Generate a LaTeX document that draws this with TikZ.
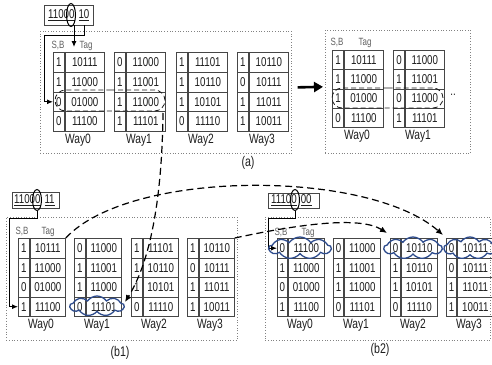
\documentclass[tikz,border=0pt]{standalone}
\usepackage{fontspec}
\setmainfont{Liberation Sans}[FakeStretch=0.76]
\usetikzlibrary{arrows.meta,shapes.symbols,shapes.misc,shapes.geometric}

\definecolor{gridline}{RGB}{70,70,70}
\definecolor{inkgray}{RGB}{30,30,30}
\definecolor{framegray}{RGB}{130,130,130}
\definecolor{cloudblue}{RGB}{45,75,140}

\newcommand\cellfont{\fontsize{12.8}{14}\selectfont}
\newcommand\wayfont{\fontsize{13.5}{15}\selectfont}
\newcommand\headfont{\fontsize{10.5}{12}\selectfont}

\tikzset{
  x=1pt, y=-1pt,
  cellbox/.style={draw=gridline, line width=0.9pt, inner sep=0pt, anchor=north west,
    font=\cellfont, text=inkgray},
  waylbl/.style={font=\wayfont, text=inkgray, inner sep=0pt},
  headlbl/.style={font=\headfont, text=gray!75!black, inner sep=0pt},
  panelbox/.style={draw=framegray, dotted, line width=0.7pt, anchor=north west, inner sep=0pt},
  addrbox/.style={draw=gridline, line width=0.9pt, inner sep=0pt},
  addrtext/.style={font=\cellfont, text=inkgray, inner sep=0pt, anchor=west},
  addrmark/.style={draw=black, line width=1pt, ellipse, inner sep=0pt},
  route/.style={draw=black, line width=1pt, -{Latex[length=6pt,width=5pt]}},
  jump/.style={draw=black, line width=1.2pt, dash pattern=on 7pt off 4pt,
    -{Latex[length=7pt,width=6pt]}},
  selband/.style={draw=inkgray, line width=0.8pt, dash pattern=on 5pt off 3pt,
    rounded rectangle, inner sep=0pt},
  hit/.style={draw=cloudblue, line width=1.3pt, cloud, cloud puffs=9, cloud puff arc=110,
    aspect=3, inner sep=0pt},
  panellbl/.style={font=\fontsize{14}{16}\selectfont, text=inkgray, inner sep=0pt},
}

% #1 name, #2 left, #3 top, #4 width, #5 S,B width, #6 row height, #7 caption, #8 rows
\newcommand\waytab[8]{%
  \foreach [count=\i] \sbv/\tagv in {#8} {
    \node[cellbox, minimum width=#5pt, minimum height=#6pt]
      (#1-s\i) at (#2,{#3+(\i-1)*#6}) {\sbv};
    \node[cellbox, minimum width={#4pt-#5pt}, minimum height=#6pt]
      (#1-t\i) at (#1-s\i.north east) {\tagv};
  }
  \node[waylbl] (#1-cap) at ({#2+#4/2},{#3+4*#6+9}) {#7};
}

\begin{document}
\begin{tikzpicture}
\path[use as bounding box, fill=white] (0,0) rectangle (492,364);

% ---------------- panel (a): before ----------------
\node[panelbox, minimum width=251pt, minimum height=122pt] (pA) at (40,31) {};
\node[addrbox, minimum width=49pt, minimum height=20pt] (addrA) at (68.5,15) {};
\node[addrtext] (addrAt) at (48,15) {\underline{11000}\hspace{4pt}\underline{10}};
\node[addrmark, minimum width=9pt, minimum height=23pt] (ellA) at (71,15) {};

\node[headlbl] (hA-sb) at (58,46) {S,B};
\node[headlbl] (hA-tag) at (86,46) {Tag};

\waytab{A0}{53}{52}{50}{11}{19.75}{Way0}{1/10111,1/11000,0/01000,0/11100}
\waytab{A1}{114}{52}{50}{11}{19.75}{Way1}{0/11000,1/11001,1/11000,1/11101}
\waytab{A2}{176}{52}{50}{11}{19.75}{Way2}{1/11101,1/10110,1/10101,0/11110}
\waytab{A3}{237}{52}{50}{11}{19.75}{Way3}{1/10110,0/10111,1/11011,1/10011}

\coordinate (aTagSrc) at (74,25);
\coordinate (aTagDst) at (74,47);
\coordinate (aIdx) at (84,25);
\draw[route] (aTagSrc) -- (aTagDst);
\draw[route] (aIdx) -- ++(0,10) -| ([xshift=-9pt]A0-s3.west) -- (A0-s3.west);

\node[selband, minimum width=110pt, minimum height=21pt] (selA) at (110,100.5) {};

% ---------------- panel (a): after ----------------
\node[panelbox, minimum width=145pt, minimum height=123pt] (pA2) at (325,30) {};
\node[headlbl] (hA2-sb) at (337,43) {S,B};
\node[headlbl] (hA2-tag) at (365,43) {Tag};
\waytab{R0}{332}{50}{50}{11}{19.25}{Way0}{1/10111,1/11000,1/01000,0/11100}
\waytab{R1}{393}{50}{50}{11}{19.25}{Way1}{0/11000,1/11001,0/11000,1/11101}
\node[font=\cellfont, text=inkgray] (moreA) at (453,95) {..};
\node[selband, minimum width=111pt, minimum height=20pt] (selA2) at (387.5,98) {};

\draw[line width=2.6pt, -{Triangle[length=9pt,width=10pt]}]
  ([xshift=6pt,yshift=5pt]pA.east) -- ([xshift=-2pt,yshift=5pt]pA2.west);
\node[panellbl] (labA) at (248,163) {(a)};

% ---------------- panel (b1) ----------------
\node[panelbox, minimum width=231pt, minimum height=123pt] (pB1) at (6,217) {};
\node[addrbox, minimum width=47pt, minimum height=16pt] (addrB1) at (35.5,200) {};
\node[addrtext] (addrB1t) at (14,200) {\underline{11000}\hspace{4pt}\underline{11}};
\node[addrmark, minimum width=9pt, minimum height=21pt] (ellB1) at (37,200) {};
\node[headlbl] (hB1-sb) at (22,232) {S,B};
\node[headlbl] (hB1-tag) at (48,232) {Tag};

\waytab{B10}{18}{238}{46}{11}{19.5}{Way0}{1/10111,1/11000,0/01000,1/11100}
\waytab{B11}{74}{238}{46}{11}{19.5}{Way1}{0/11000,1/11001,1/11000,0/11101}
\waytab{B12}{131}{238}{46}{11}{19.5}{Way2}{1/11101,1/10110,1/10101,0/11110}
\waytab{B13}{187}{238}{46}{11}{19.5}{Way3}{1/10110,0/10111,1/11011,1/10011}

\draw[route] (ellB1.south) -- ++(0,7) -| ([xshift=-9pt]B10-s4.west) -- (B10-s4.west);
\node[hit, minimum width=54pt, minimum height=20pt] (cB1) at (97,306) {};
\node[panellbl] (labB1) at (120,353) {(b1)};

% ---------------- panel (b2) ----------------
\node[panelbox, minimum width=225pt, minimum height=123pt] (pB2) at (265,217) {};
\node[addrbox, minimum width=51pt, minimum height=15pt] (addrB2) at (293.5,200.5) {};
\node[addrtext] (addrB2t) at (271,200.5) {\underline{11100}\hspace{4pt}\underline{00}};
\node[addrmark, minimum width=9pt, minimum height=21pt] (ellB2) at (295,200) {};
\node[headlbl] (hB2-sb) at (281,233) {S,B};
\node[headlbl] (hB2-tag) at (308,233) {Tag};

\waytab{B20}{277}{238}{46}{10}{19.5}{Way0}{0/11100,1/11000,0/01000,1/11100}
\waytab{B21}{333}{238}{46}{10}{19.5}{Way1}{0/11000,1/11001,1/11000,0/11101}
\waytab{B22}{390}{238}{46}{10}{19.5}{Way2}{0/10110,1/10110,1/10101,0/11110}
\waytab{B23}{446}{238}{46}{10}{19.5}{Way3}{0/10111,0/10111,1/11011,1/10011}

\draw[route] (ellB2.south) -- ++(0,7) -| ([xshift=-9pt]B20-s1.west) -- (B20-s1.west);
\node[hit, minimum width=62pt, minimum height=22pt] (cB20) at (300,248) {};
\node[hit, minimum width=58pt, minimum height=22pt] (cB22) at (413,248) {};
\node[hit, minimum width=52pt, minimum height=22pt] (cB23) at (470,248) {};
\node[panellbl] (labB2) at (380,350) {(b2)};

% ---------------- moves between the sets ----------------
\coordinate (selAfoot) at (163,113);
\coordinate (tipW2) at (387,233);
\coordinate (tipW3) at (443,235);
\draw[jump] (selAfoot) .. controls (162,200) and (150,262) .. ([yshift=4pt]cB1.east);
\draw[jump] (B10-t1.north east) .. controls (130,169) and (368,169) .. (tipW3);
\draw[jump] (B13-t1.north east) .. controls (300,224) and (360,216) .. (tipW2);
\end{tikzpicture}
\end{document}
